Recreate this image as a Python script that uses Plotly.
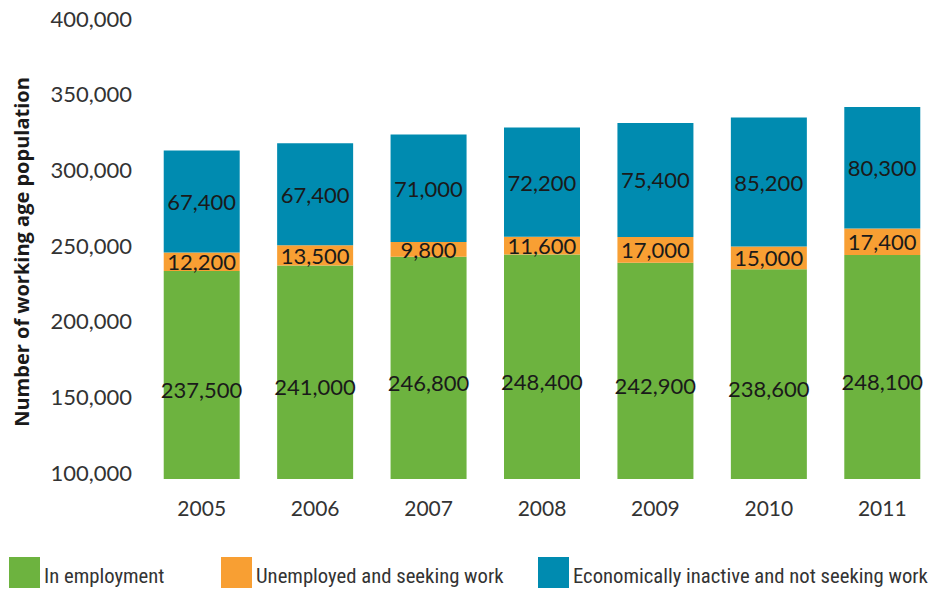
import plotly.graph_objects as go

years = ["2005", "2006", "2007", "2008", "2009", "2010", "2011"]
employed = [237500, 241000, 246800, 248400, 242900, 238600, 248100]
unemployed = [12200, 13500, 9800, 11600, 17000, 15000, 17400]
inactive = [67400, 67400, 71000, 72200, 75400, 85200, 80300]
series_names = ["In employment", "Unemployed and seeking work",
                "Economically inactive and not seeking work"]
colors = ["#6db33f", "#f89f33", "#008bb0"]
y_ticks = [100000, 150000, 200000, 250000, 300000, 350000, 400000]
y_floor = 100000
y_title = "Number of working age population"

# page body has an 8px margin: figure is drawn 8px in from the top-left
OFF = 8
W, H = 939 - OFF, 590 - OFF
ML, MR, MT, MB = 145 - OFF, 0, 25 - OFF, 111
PW, PH = W - ML - MR, H - MT - MB

TXT = "Lato, 'Open Sans', sans-serif"
NARROW = "'Liberation Sans Narrow', 'Roboto Condensed', 'DejaVu Sans Condensed', sans-serif"

# stacked segments (bars drawn from the axis floor)
seg_base = [
    [y_floor] * len(years),
    list(employed),
    [e + u for e, u in zip(employed, unemployed)],
]
seg_top = [
    list(employed),
    [e + u for e, u in zip(employed, unemployed)],
    [e + u + i for e, u, i in zip(employed, unemployed, inactive)],
]
seg_vals = [employed, unemployed, inactive]

fig = go.Figure()
for k, (name, col) in enumerate(zip(series_names, colors)):
    vals = seg_vals[k]
    labels = [f"{v:,}" for v in vals]
    if k == 0:
        labels = ["&nbsp;<br>" + t for t in labels]
    fig.add_trace(go.Bar(
        x=years, y=[t - b for t, b in zip(seg_top[k], seg_base[k])], base=seg_base[k],
        name=name, marker=dict(color=col, line=dict(width=0)),
        text=labels, textposition="inside",
        insidetextanchor="middle", textangle=0, constraintext="none",
        textfont=dict(family=TXT, size=22, color="#1a1a1a"),
        hoverinfo="skip", showlegend=False,
    ))


def px_x(p):  # reference-picture pixel -> paper x
    return (p - OFF - ML) / PW


def px_y(p):  # reference-picture pixel -> paper y
    return (H - MB - (p - OFF)) / PH


# legend with large square swatches
legend_x = [9, 221, 538]
for name, col, lx in zip(series_names, colors, legend_x):
    fig.add_shape(type="rect", xref="paper", yref="paper",
                  x0=px_x(lx), x1=px_x(lx + 31), y0=px_y(588), y1=px_y(557),
                  fillcolor=col, line=dict(width=0))
    fig.add_annotation(xref="paper", yref="paper", x=px_x(lx + 33), y=px_y(576),
                       text=name, showarrow=False, xanchor="left", yanchor="middle",
                       font=dict(family=NARROW, size=20.7, color="#333333"))

fig.update_layout(
    width=W, height=H, barmode="overlay", bargap=0.33,
    margin=dict(l=ML, r=MR, t=MT, b=MB, autoexpand=False),
    plot_bgcolor="white", paper_bgcolor="white",
    uniformtext=dict(minsize=22, mode="show"),
    showlegend=False,
)
fig.update_yaxes(
    range=[y_floor, 400000], tickvals=y_ticks, tickformat=",",
    showgrid=False, zeroline=False, showline=False, automargin=False,
    ticklabelposition="outside", ticklabelstandoff=12, ticklabelshift=-6,
    ticklabeloverflow="allow",
    tickfont=dict(family=TXT, size=22, color="#333333"),
    title=dict(text=f"<b>{y_title}</b>", standoff=16,
               font=dict(family="'Open Sans', sans-serif", size=20, color="#1a1a1a")),
)
fig.update_xaxes(
    type="category", showgrid=False, showline=False, zeroline=False, automargin=False,
    ticklabelstandoff=15,
    tickfont=dict(family=TXT, size=21, color="#333333"),
)
fig.write_html("out.html")
